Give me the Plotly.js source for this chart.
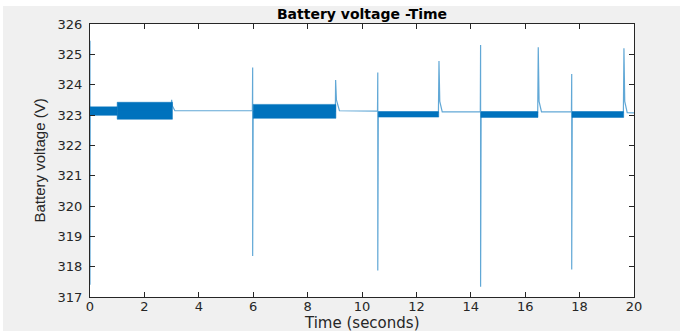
<!DOCTYPE html>
<html>
<head>
<meta charset="utf-8">
<script src="https://cdn.plot.ly/plotly-3.0.1.min.js"></script>
<style>
  html, body { margin: 0; padding: 0; background: #ffffff; }
  #chart { position: absolute; left: 3px; top: 6px; width: 677px; height: 325px; }
</style>
</head>
<body>
<div id="chart"></div>
<script>
// Thin signal line (time in seconds, voltage in V)
var lineTime = [0, 0, 0.01, 2.99, 3.0, 3.03, 3.12, 5.97, 5.98, 5.98, 5.99, 6.0,
                9.02, 9.03, 9.06, 9.17, 10.57, 10.58, 10.58, 10.59, 10.6,
                12.81, 12.83, 12.86, 12.95, 14.35, 14.36, 14.36, 14.37, 14.38,
                16.46, 16.48, 16.51, 16.6, 17.7, 17.71, 17.71, 17.72, 17.73,
                19.61, 19.63, 19.66, 19.75, 20];
var lineVolt = [325.45, 317.4, 323.13, 323.13, 323.5, 323.3, 323.14, 323.14, 324.57, 318.35, 323.12, 323.12,
                323.12, 324.15, 323.5, 323.14, 323.13, 324.4, 317.87, 323.1, 323.1,
                323.1, 324.78, 323.45, 323.1, 323.1, 325.31, 317.34, 323.1, 323.1,
                323.1, 325.23, 323.45, 323.1, 323.1, 324.35, 317.91, 323.1, 323.1,
                323.1, 325.2, 323.45, 323.08, 323.07];

// Dense oscillation bands (envelopes)
var bandStart  = [0, 1.0, 6.0, 10.6, 14.37, 17.72];
var bandEnd    = [1.0, 3.03, 9.04, 12.82, 16.47, 19.62];
var bandTop    = [323.27, 323.42, 323.35, 323.11, 323.11, 323.11];
var bandBottom = [322.99, 322.86, 322.89, 322.93, 322.92, 322.92];

var xTicks = [0, 2, 4, 6, 8, 10, 12, 14, 16, 18, 20];
var yTicks = [317, 318, 319, 320, 321, 322, 323, 324, 325, 326];

var blue = '#0072BD';
var traces = [];
for (var i = 0; i < bandStart.length; i++) {
  traces.push({
    x: [bandStart[i], bandEnd[i], bandEnd[i], bandStart[i], bandStart[i]],
    y: [bandTop[i], bandTop[i], bandBottom[i], bandBottom[i], bandTop[i]],
    mode: 'lines', fill: 'toself', fillcolor: blue,
    line: {color: blue, width: 0.5}, hoverinfo: 'skip', showlegend: false
  });
}
traces.push({
  x: lineTime, y: lineVolt, mode: 'lines',
  line: {color: 'rgba(0,114,189,0.62)', width: 1.2},
  showlegend: false
});

var tickFont = {family: 'DejaVu Sans', size: 13, color: '#262626'};
var axisCommon = {
  showline: true, linecolor: '#262626', linewidth: 1, mirror: 'ticks',
  ticks: 'inside', ticklen: 5, tickcolor: '#262626', tickwidth: 1,
  showgrid: false, zeroline: false, tickfont: tickFont, automargin: false
};

var layout = {
  width: 677, height: 325,
  paper_bgcolor: '#f0f0f0', plot_bgcolor: '#ffffff',
  margin: {l: 87, r: 46, t: 18, b: 34},
  title: {text: 'Battery voltage -Time',
          font: {family: 'DejaVu Sans', size: 14, color: '#000000', weight: 'bold'},
          x: 0.5, xref: 'paper', xanchor: 'center',
          y: 0.974, yref: 'container', yanchor: 'middle'},
  xaxis: Object.assign({}, axisCommon, {
    range: [0, 20], tickvals: xTicks, ticktext: xTicks.map(String),
    ticklabelstandoff: -3
  }),
  yaxis: Object.assign({}, axisCommon, {
    range: [317, 326], tickvals: yTicks, ticktext: yTicks.map(String),
    ticklabelstandoff: 4
  }),
  annotations: [
    {text: 'Time (seconds)', xref: 'paper', yref: 'paper', x: 0.5, y: 0,
     xanchor: 'center', yanchor: 'middle', yshift: -26, showarrow: false,
     font: {family: 'DejaVu Sans', size: 15, color: '#262626'}},
    {text: 'Battery voltage (V)', xref: 'paper', yref: 'paper', x: 0, y: 0.5,
     xanchor: 'center', yanchor: 'middle', xshift: -51, textangle: -90, showarrow: false,
     font: {family: 'Liberation Sans', size: 15, color: '#262626'}}
  ]
};

Plotly.newPlot('chart', traces, layout, {staticPlot: true, displayModeBar: false});
</script>
</body>
</html>
